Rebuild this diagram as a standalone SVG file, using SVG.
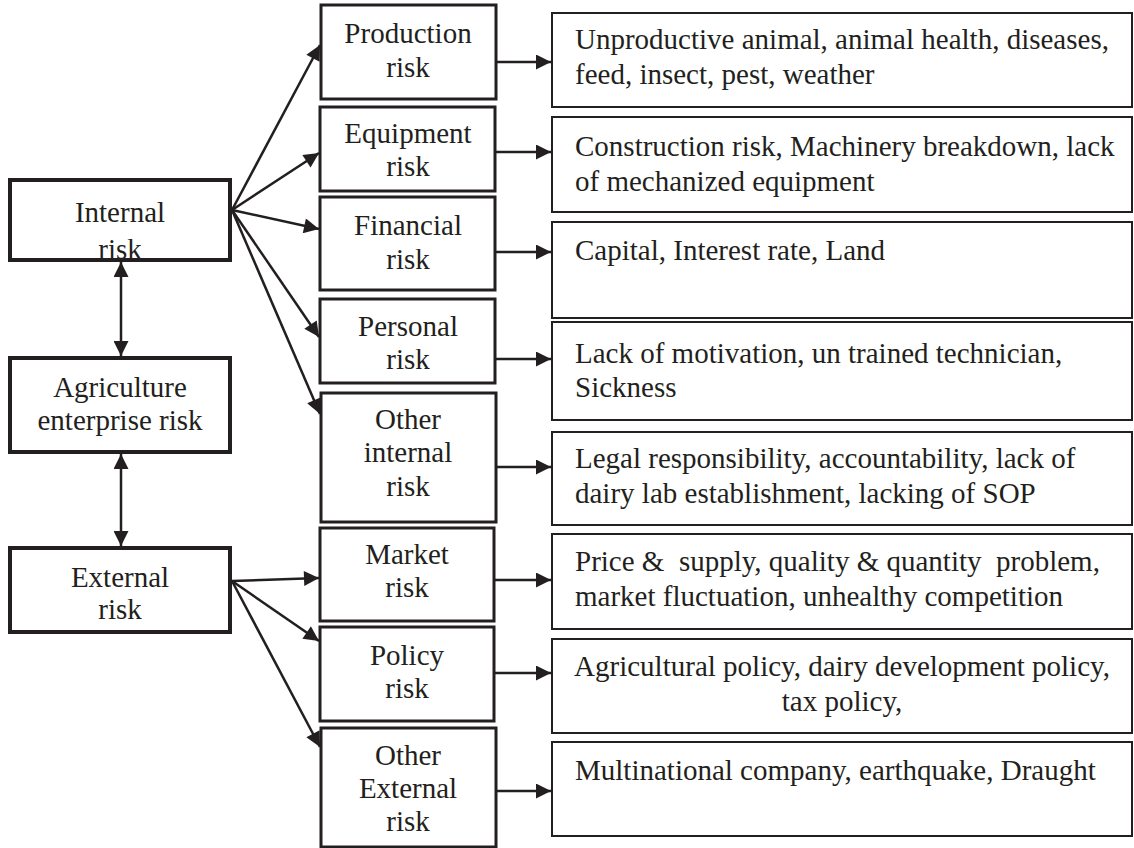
<svg xmlns="http://www.w3.org/2000/svg" width="1134" height="848" viewBox="0 0 1134 848">
<defs>
<marker id="ah" viewBox="0 0 10 10" refX="10" refY="5" markerWidth="7" markerHeight="6" markerUnits="strokeWidth" orient="auto-start-reverse">
<path d="M0,0 L10,5 L0,10 Z" fill="#231f20"/>
</marker>
<style>
text{font-family:'Liberation Serif','DejaVu Serif',serif;font-size:29px;fill:#231f20}
.c{text-anchor:middle}
.bl{fill:#fff;stroke:#231f20;stroke-width:4}
.bm{fill:#fff;stroke:#231f20;stroke-width:3}
.br{fill:#fff;stroke:#231f20;stroke-width:2}
.ln{stroke:#231f20;stroke-width:2.5;fill:none}
</style>
</defs>
<rect width="1134" height="848" fill="#fff"/>
<g id="internal">
<rect class="bl" x="10" y="180" width="220" height="80"/>
<text class="c" x="120" y="222">Internal</text>
<text class="c" x="120" y="259">risk</text>
<rect x="10" y="180" width="220" height="80" fill="none" stroke="#231f20" stroke-width="4"/>
<rect x="8" y="262" width="224" height="12" fill="#fff"/>
</g>
<g id="agri">
<rect class="bl" x="10" y="358" width="220" height="94"/>
<text class="c" x="120" y="397">Agriculture</text>
<text class="c" x="120" y="430">enterprise risk</text>
</g>
<g id="external">
<rect class="bl" x="10" y="548" width="220" height="84"/>
<text class="c" x="120" y="587">External</text>
<text class="c" x="120" y="619">risk</text>
</g>
<g id="production">
<rect class="bm" x="321" y="5" width="175" height="94"/>
<text class="c" x="408" y="43">Production</text>
<text class="c" x="408" y="77">risk</text>
</g>
<g id="equipment">
<rect class="bm" x="320" y="107" width="175" height="84"/>
<text class="c" x="408" y="143">Equipment</text>
<text class="c" x="408" y="176">risk</text>
</g>
<g id="financial">
<rect class="bm" x="320" y="197" width="175" height="93"/>
<text class="c" x="408" y="235">Financial</text>
<text class="c" x="408" y="269">risk</text>
</g>
<g id="personal">
<rect class="bm" x="320" y="299" width="175" height="84"/>
<text class="c" x="408" y="336">Personal</text>
<text class="c" x="408" y="369">risk</text>
</g>
<g id="otherinternal">
<rect class="bm" x="321" y="393" width="175" height="129"/>
<text class="c" x="408" y="429">Other</text>
<text class="c" x="408" y="462">internal</text>
<text class="c" x="408" y="496">risk</text>
</g>
<g id="market">
<rect class="bm" x="320" y="528" width="174" height="93"/>
<text class="c" x="407" y="564">Market</text>
<text class="c" x="407" y="597">risk</text>
</g>
<g id="policy">
<rect class="bm" x="320" y="627" width="174" height="94"/>
<text class="c" x="407" y="665">Policy</text>
<text class="c" x="407" y="698">risk</text>
</g>
<g id="otherexternal">
<rect class="bm" x="321" y="728" width="175" height="119"/>
<text class="c" x="408" y="765">Other</text>
<text class="c" x="408" y="798">External</text>
<text class="c" x="408" y="831">risk</text>
</g>
<g id="d1">
<rect class="br" x="552" y="13" width="580" height="94"/>
<text x="575" y="49">Unproductive animal, animal health, diseases,</text>
<text x="575" y="84">feed, insect, pest, weather</text>
</g>
<g id="d2">
<rect class="br" x="552" y="117" width="580" height="95"/>
<text x="575" y="156">Construction risk, Machinery breakdown, lack</text>
<text x="575" y="191">of mechanized equipment</text>
</g>
<g id="d3">
<rect class="br" x="552" y="222" width="580" height="96"/>
<text x="575" y="260">Capital, Interest rate, Land</text>
</g>
<g id="d4">
<rect class="br" x="552" y="322" width="580" height="98"/>
<text x="575" y="363">Lack of motivation, un trained technician,</text>
<text x="575" y="397">Sickness</text>
</g>
<g id="d5">
<rect class="br" x="552" y="432" width="580" height="93"/>
<text x="575" y="468">Legal responsibility, accountability, lack of</text>
<text x="575" y="503">dairy lab establishment, lacking of SOP</text>
</g>
<g id="d6">
<rect class="br" x="552" y="534" width="580" height="95"/>
<text x="575" y="571" xml:space="preserve">Price &amp;  supply, quality &amp; quantity  problem,</text>
<text x="575" y="606">market fluctuation, unhealthy competition</text>
</g>
<g id="d7">
<rect class="br" x="552" y="639" width="580" height="94"/>
<text class="c" x="842" y="676">Agricultural policy, dairy development policy,</text>
<text class="c" x="842" y="711">tax policy,</text>
</g>
<g id="d8">
<rect class="br" x="552" y="742" width="580" height="94"/>
<text x="575" y="780">Multinational company, earthquake, Draught</text>
</g>
<g id="connectors">
<line class="ln" x1="121" y1="262" x2="121" y2="356" marker-start="url(#ah)" marker-end="url(#ah)"/>
<line class="ln" x1="121" y1="454" x2="121" y2="546" marker-start="url(#ah)" marker-end="url(#ah)"/>
<line class="ln" x1="232" y1="210" x2="320" y2="45" marker-end="url(#ah)"/>
<line class="ln" x1="232" y1="210" x2="319" y2="153" marker-end="url(#ah)"/>
<line class="ln" x1="232" y1="210" x2="319" y2="229" marker-end="url(#ah)"/>
<line class="ln" x1="232" y1="210" x2="319" y2="337" marker-end="url(#ah)"/>
<line class="ln" x1="232" y1="210" x2="320" y2="414" marker-end="url(#ah)"/>
<line class="ln" x1="232" y1="581" x2="319" y2="578" marker-end="url(#ah)"/>
<line class="ln" x1="232" y1="581" x2="319" y2="641" marker-end="url(#ah)"/>
<line class="ln" x1="232" y1="581" x2="320" y2="747" marker-end="url(#ah)"/>
<line class="ln" x1="497" y1="62" x2="551" y2="62" marker-end="url(#ah)"/>
<line class="ln" x1="496" y1="152" x2="551" y2="152" marker-end="url(#ah)"/>
<line class="ln" x1="496" y1="252" x2="551" y2="252" marker-end="url(#ah)"/>
<line class="ln" x1="496" y1="359" x2="551" y2="359" marker-end="url(#ah)"/>
<line class="ln" x1="497" y1="467" x2="551" y2="467" marker-end="url(#ah)"/>
<line class="ln" x1="495" y1="580" x2="551" y2="580" marker-end="url(#ah)"/>
<line class="ln" x1="495" y1="673" x2="551" y2="673" marker-end="url(#ah)"/>
<line class="ln" x1="497" y1="791" x2="551" y2="791" marker-end="url(#ah)"/>
</g>
</svg>
